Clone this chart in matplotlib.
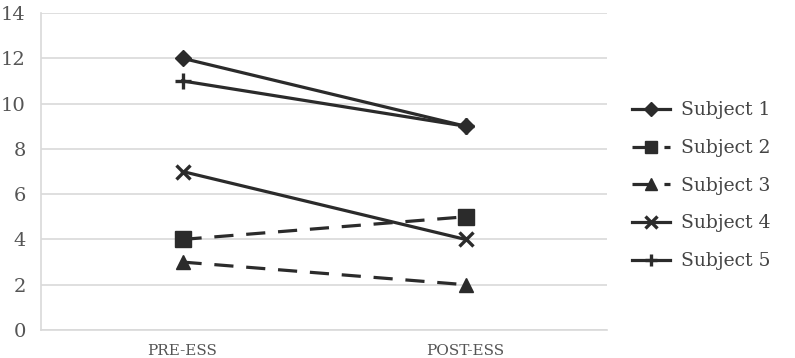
import numpy as np
import matplotlib.pyplot as plt

plt.rcParams["font.family"] = ["DejaVu Serif"]

categories = ["PRE-ESS", "POST-ESS"]
subjects = ["Subject 1", "Subject 2", "Subject 3", "Subject 4", "Subject 5"]
subject1 = [12, 9]
subject2 = [4, 5]
subject3 = [3, 2]
subject4 = [7, 4]
subject5 = [11, 9]
yticks = [0, 2, 4, 6, 8, 10, 12, 14]

series = [subject1, subject2, subject3, subject4, subject5]
markers = ["D", "s", "^", "x", "+"]
sizes = [8, 11, 10, 10, 11]
styles = ["-", (0, (6, 4)), (0, (6, 4)), "-", "-"]

fig = plt.figure(figsize=(7.95, 3.58), dpi=100)
ax = fig.add_axes([41 / 795, 28 / 358, 566 / 795, 317 / 358])

x = np.arange(len(categories))
for vals, lab, m, ms, ls in zip(series, subjects, markers, sizes, styles):
    ax.plot(x, vals, linestyle=ls, color="#2b2b2b", linewidth=2.3,
            marker=m, markersize=ms, markeredgewidth=2.4 if m in "x+" else 1,
            label=lab, zorder=3)

ax.set_xlim(-0.5, 1.5)
ax.set_ylim(0, 14)
ax.set_yticks(yticks)
ax.set_xticks(x)
ax.set_xticklabels(categories)
ax.grid(axis="y", color="#d9d9d9", linewidth=1.2)
ax.set_axisbelow(True)
for side in ["top", "right"]:
    ax.spines[side].set_visible(False)
for side in ["left", "bottom"]:
    ax.spines[side].set_color("#d9d9d9")
    ax.spines[side].set_linewidth(1.2)
ax.tick_params(length=0, labelsize=14, colors="#555555")
ax.tick_params(axis="y", pad=11)
ax.tick_params(axis="x", pad=10)
for t in ax.get_xticklabels():
    t.set_fontsize(11)

ax.legend(loc="center left", bbox_to_anchor=(1.015, 0.455), frameon=False,
          fontsize=13.5, handlelength=2.0, handletextpad=0.6,
          labelspacing=1.05, labelcolor="#444444", markerscale=0.85)

fig.savefig("out.png", dpi=100)
